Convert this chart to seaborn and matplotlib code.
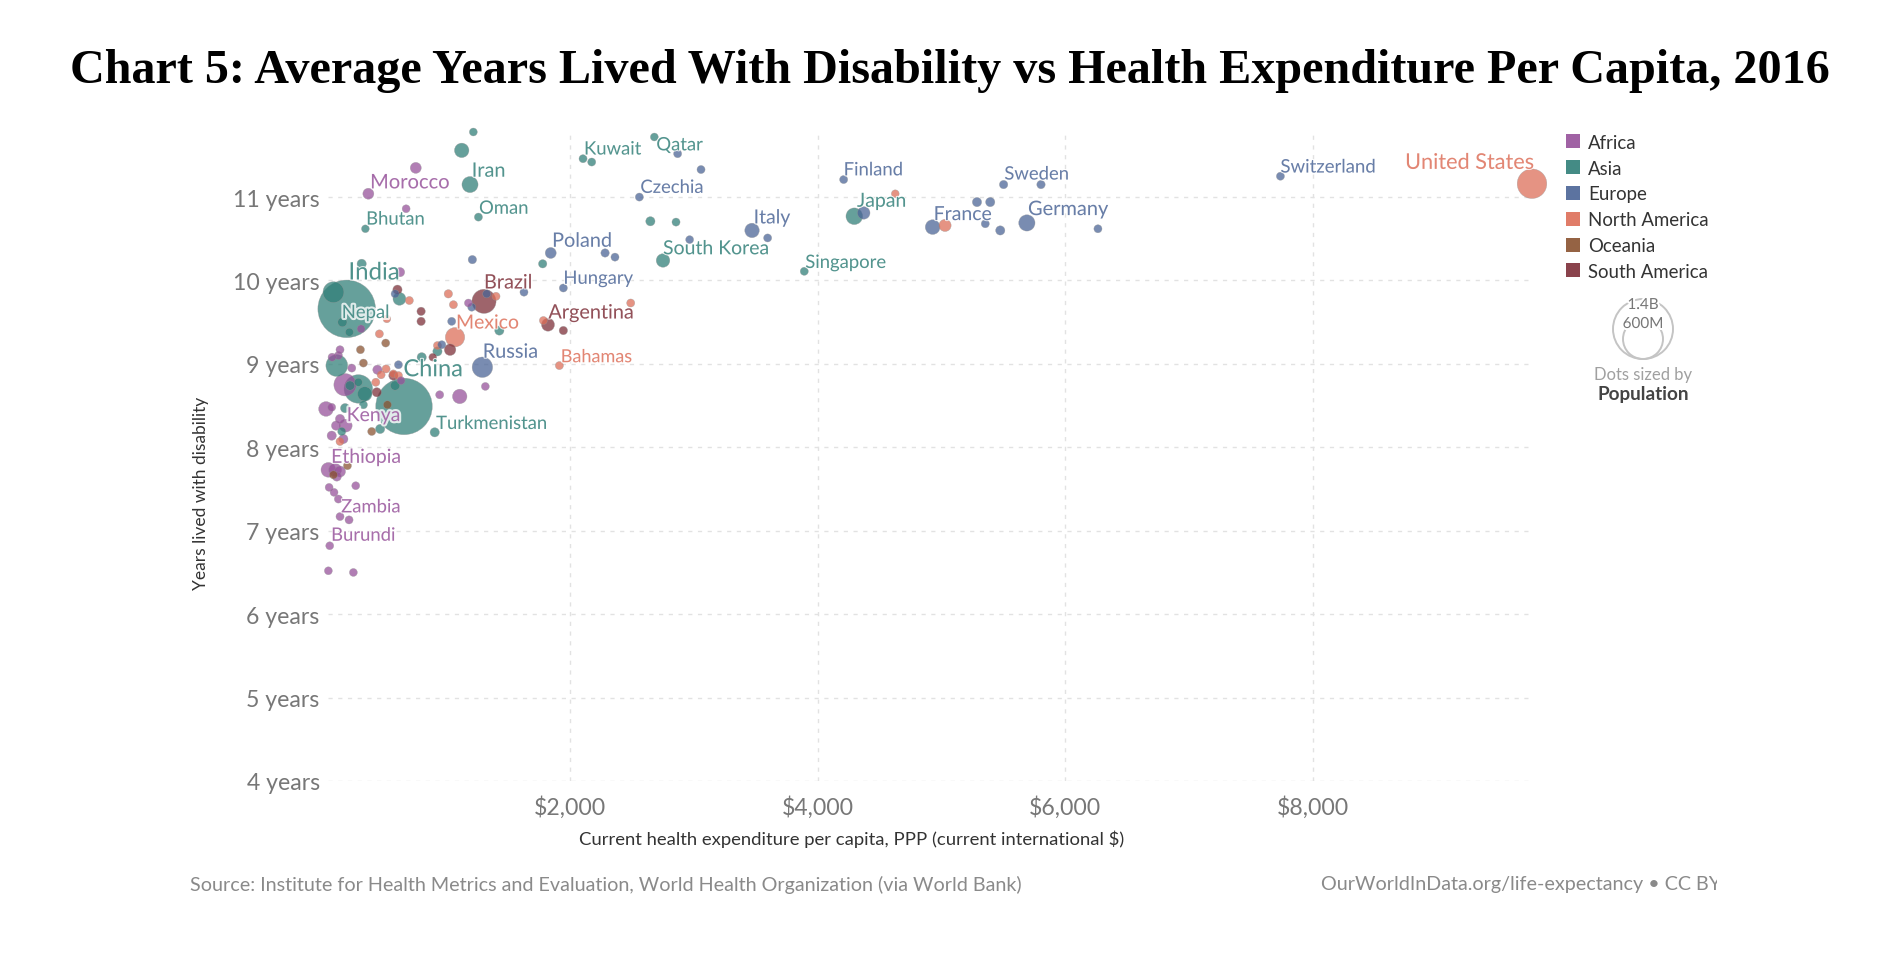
# Chart 5: Average Years Lived With Disability vs Health Expenditure Per Capita, 2016

import pandas as pd
import matplotlib
matplotlib.use("Agg")
import matplotlib.pyplot as plt
import matplotlib.patheffects as pe
from matplotlib.patches import Rectangle, Circle
from matplotlib.transforms import Bbox
import seaborn as sns

# ============================================================
# DATA (expenditure $, years lived with disability, population in millions)
# ============================================================

africa_x = [754, 371, 676, 627, 1179, 312, 142, 78, 129, 237, 444, 183, 635, 947, 1109, 1316,
            29, 75, 142, 110, 188, 75, 169, 48, 102, 142, 116, 269, 54, 94, 129, 142, 215, 59, 48, 250]
africa_y = [11.35, 11.04, 10.86, 10.10, 9.73, 9.42, 9.17, 9.08, 9.10, 8.95, 8.93, 8.75, 8.80, 8.63, 8.61, 8.73,
            8.46, 8.48, 8.34, 8.26, 8.26, 8.14, 8.10, 7.73, 7.73, 7.71, 7.65, 7.54, 7.52, 7.46, 7.38, 7.17, 7.13, 6.82, 6.52, 6.50]
africa_pop = [25, 25, 2, 11, 2, 2, 3, 3, 3, 3, 11, 176, 2, 3, 60, 2,
              63, 2, 11, 11, 43, 11, 11, 63, 43, 25, 11, 2, 2, 2, 3, 3, 3, 2, 2, 2]

asia_x = [1219, 1125, 1192, 1260, 347, 2105, 2175, 2681, 2649, 2856, 2751, 3892, 4296, 196, 89, 161, 218,
          622, 317, 1429, 1779, 929, 802, 116, 290, 342, 223, 290, 659, 587, 907, 466, 156, 183, 331]
asia_y = [11.78, 11.56, 11.15, 10.76, 10.62, 11.46, 11.42, 11.72, 10.71, 10.70, 10.24, 10.11, 10.77, 9.66, 9.86, 9.50, 9.38,
          9.78, 10.20, 9.40, 10.20, 9.15, 9.08, 8.98, 8.70, 8.64, 8.74, 8.78, 8.49, 8.74, 8.18, 8.22, 8.19, 8.47, 8.51]
asia_pop = [2, 60, 80, 3, 1, 3, 3, 2, 11, 3, 50, 3, 87, 1290, 150, 11, 3,
            43, 11, 11, 5, 11, 11, 165, 300, 60, 11, 3, 1240, 11, 11, 11, 3, 11, 3]

europe_x = [1844, 1211, 2283, 2363, 2560, 1946, 1628, 1044, 1206, 1327, 587, 964, 614, 1292, 2869, 3058, 2966,
            3470, 3596, 4210, 4372, 5502, 5804, 5287, 5394, 5354, 5475, 4929, 5690, 6264, 7738]
europe_y = [10.33, 10.25, 10.33, 10.28, 11.00, 9.91, 9.86, 9.51, 9.68, 9.84, 9.84, 9.23, 8.99, 8.96, 11.52, 11.33, 10.49,
            10.60, 10.51, 11.21, 10.81, 11.15, 11.15, 10.94, 10.94, 10.68, 10.60, 10.64, 10.69, 10.62, 11.25]
europe_pop = [25, 5, 5, 3, 3, 3, 3, 3, 3, 3, 3, 3, 3, 143, 3, 3, 2,
              60, 3, 3, 40, 5, 5, 11, 11, 3, 11, 63, 82, 3, 3]

north_america_x = [9770, 5029, 4627, 1914, 1071, 1017, 1058, 1402, 702, 2490, 1785, 460, 520, 474, 514, 431, 573, 614, 929, 142]
north_america_y = [11.16, 10.66, 11.04, 8.98, 9.32, 9.84, 9.71, 9.81, 9.76, 9.73, 9.52, 9.36, 9.54, 8.87, 8.94, 8.78, 8.88, 8.86, 9.22, 8.07]
north_america_pop = [323, 36, 1, 3, 125, 5, 3, 3, 3, 3, 3, 3, 1, 3, 3, 3, 3, 3, 3, 3]

oceania_x = [307, 331, 511, 525, 398, 202, 89]
oceania_y = [9.17, 9.01, 9.25, 8.51, 8.19, 7.78, 7.67]
oceania_pop = [3, 3, 3, 3, 3, 3, 3]

south_america_x = [1305, 1822, 1946, 797, 797, 606, 1031, 573, 439, 891]
south_america_y = [9.75, 9.47, 9.40, 9.63, 9.51, 9.89, 9.17, 8.86, 8.66, 9.08]
south_america_pop = [208, 44, 5, 5, 5, 11, 30, 11, 11, 1]

continents = ["Africa", "Asia", "Europe", "North America", "Oceania", "South America"]
colors = ["#96519A", "#307F78", "#4A6496", "#DD6E58", "#8A5230", "#7D2E38"]

# name, continent, x, y, font size
labels = [
    ("Iran", "Asia", 1206, 11.31, 14.3),
    ("Morocco", "Africa", 385, 11.17, 14.5),
    ("Bhutan", "Asia", 353, 10.73, 13.3),
    ("Oman", "Asia", 1265, 10.86, 13.3),
    ("Kuwait", "Asia", 2113, 11.57, 13.3),
    ("Qatar", "Asia", 2697, 11.62, 13.3),
    ("Czechia", "Europe", 2568, 11.11, 13.3),
    ("Poland", "Europe", 1855, 10.47, 14.3),
    ("India", "Asia", 210, 10.09, 17.3),
    ("Hungary", "Europe", 1946, 10.02, 13.3),
    ("Brazil", "South America", 1305, 9.97, 14.3),
    ("Nepal", "Asia", 156, 9.61, 13.3),
    ("Argentina", "South America", 1825, 9.61, 14.3),
    ("Mexico", "North America", 1079, 9.49, 14),
    ("Russia", "Europe", 1295, 9.14, 14.3),
    ("Bahamas", "North America", 1925, 9.08, 13),
    ("China", "Asia", 654, 8.93, 17),
    ("Kenya", "Africa", 196, 8.38, 14),
    ("Turkmenistan", "Asia", 918, 8.28, 13.3),
    ("Ethiopia", "Africa", 70, 7.88, 14),
    ("Zambia", "Africa", 151, 7.28, 13.3),
    ("Burundi", "Africa", 70, 6.94, 13.3),
    ("South Korea", "Asia", 2751, 10.38, 14),
    ("Italy", "Europe", 3483, 10.75, 14),
    ("Singapore", "Asia", 3900, 10.21, 13.3),
    ("Finland", "Europe", 4210, 11.32, 13.3),
    ("Japan", "Asia", 4318, 10.95, 14),
    ("France", "Europe", 4937, 10.79, 14),
    ("Sweden", "Europe", 5508, 11.27, 13.3),
    ("Germany", "Europe", 5699, 10.85, 14.4),
    ("Switzerland", "Europe", 7738, 11.36, 13.4),
    ("United States", "North America", 8745, 11.41, 15.6),
]

year_ticks = [4, 5, 6, 7, 8, 9, 10, 11]
dollar_ticks = [2000, 4000, 6000, 8000]

# ============================================================
# BUILD TABLE
# ============================================================

frames = []
for name, xs, ys, pops in [
    ("Africa", africa_x, africa_y, africa_pop),
    ("Asia", asia_x, asia_y, asia_pop),
    ("Europe", europe_x, europe_y, europe_pop),
    ("North America", north_america_x, north_america_y, north_america_pop),
    ("Oceania", oceania_x, oceania_y, oceania_pop),
    ("South America", south_america_x, south_america_y, south_america_pop),
]:
    frames.append(pd.DataFrame({"continent": name, "spend": xs, "years": ys, "pop": pops}))

df = pd.concat(frames).sort_values("pop", ascending=False)

# ============================================================
# PLOT
# ============================================================

sns.set_style("white")
plt.rcParams["font.family"] = ["Lato", "DejaVu Sans"]

W, H = 1892, 970
fig = plt.figure(figsize=(W / 100, H / 100), dpi=100)
ax = fig.add_axes([328 / W, 1 - 782 / H, (1532 - 328) / W, (782 - 133) / H])

palette = dict(zip(continents, colors))

sns.scatterplot(
    data=df, x="spend", y="years", hue="continent", size="pop",
    palette=palette, sizes=(30, 1866), size_norm=(0, 1400),
    alpha=0.74, edgecolor="#999999", linewidth=0.3,
    legend=False, clip_on=False, ax=ax, zorder=3
)

ax.set_xlim(45, 9770)
ax.set_ylim(4, 11.78)

ax.set_yticks(year_ticks)
ax.set_yticklabels([f"{y} years" for y in year_ticks], fontsize=16.6, color="#777777")
ax.set_xticks(dollar_ticks)
ax.set_xticklabels([f"${d:,}" for d in dollar_ticks], fontsize=16.6, color="#777777")
ax.tick_params(axis="both", length=0)
ax.tick_params(axis="x", pad=10)
ax.tick_params(axis="y", pad=6)

ax.grid(True, color="#e2e2e2", linewidth=1.0, linestyle=(0, (3, 4)))
ax.set_axisbelow(True)
sns.despine(ax=ax, left=True, bottom=True)
ax.set_xlabel("")
ax.set_ylabel("")

for name, cont, x, y, size in labels:
    halo = 3 if name in ("Nepal", "Kenya") else 1.5
    ax.text(x, y, name, color=palette[cont], alpha=0.8, fontsize=size,
            va="center", ha="left", zorder=5,
            path_effects=[pe.withStroke(linewidth=halo, foreground="white", alpha=0.8)])

# titles and axis text
fig.text(0.5 + 4 / W, 1 - 71 / H, "Chart 5: Average Years Lived With Disability vs Health Expenditure Per Capita, 2016",
         family="Liberation Serif", fontweight="bold", fontsize=34.7, ha="center", va="center", color="black")
fig.text(852 / W, 1 - 839 / H, "Current health expenditure per capita, PPP (current international $)",
         fontsize=13.3, ha="center", va="center", color="#333333")
fig.text(201 / W, 1 - 493 / H, "Years lived with disability", rotation=90,
         fontsize=12.5, ha="center", va="center", color="#333333")
fig.text(190 / W, 1 - 885 / H, "Source: Institute for Health Metrics and Evaluation, World Health Organization (via World Bank)",
         fontsize=14.2, ha="left", va="center", color="#8a8a8a")

# the credit line is cut off at the right edge in the original
credit = fig.text(1321 / W, 1 - 885 / H, "OurWorldInData.org/life-expectancy • CC BY",
                  fontsize=14.2, ha="left", va="center", color="#8a8a8a")
credit.set_clip_box(Bbox([[0, 0], [1717, H]]))
credit.set_clip_on(True)

# ============================================================
# LEGEND
# ============================================================

for i, (name, color) in enumerate(zip(continents, colors)):
    cy = 142.3 + i * 25.8
    fig.add_artist(Rectangle((1566 / W, 1 - (cy + 7) / H), 14 / W, 14 / H, color=color, alpha=0.9,
                             transform=fig.transFigure, linewidth=0))
    fig.text(1588 / W, 1 - (cy + 1) / H, name, fontsize=13.4, va="center", ha="left", color="#333333")

# population size key, in pixels
key_ax = fig.add_axes([0, 0, 1, 1], facecolor="none")
key_ax.set_xlim(0, W)
key_ax.set_ylim(H, 0)
key_ax.axis("off")
key_ax.add_patch(Circle((1643, 330), 30, fill=False, edgecolor="#c4c4c4", linewidth=1.4))
key_ax.add_patch(Circle((1643, 340), 20, fill=False, edgecolor="#c4c4c4", linewidth=1.4))
white_halo = [pe.withStroke(linewidth=3, foreground="white")]
key_ax.text(1643, 306, "1.4B", fontsize=11, color="#777777", ha="center", va="center", path_effects=white_halo)
key_ax.text(1643, 325, "600M", fontsize=11, color="#777777", ha="center", va="center", path_effects=white_halo)
key_ax.text(1643, 375, "Dots sized by", fontsize=12, color="#a0a0a0", ha="center", va="center")
key_ax.text(1643, 395, "Population", fontsize=13.6, color="#444444", ha="center", va="center", fontweight="bold")

plt.savefig("out.png", dpi=100)
